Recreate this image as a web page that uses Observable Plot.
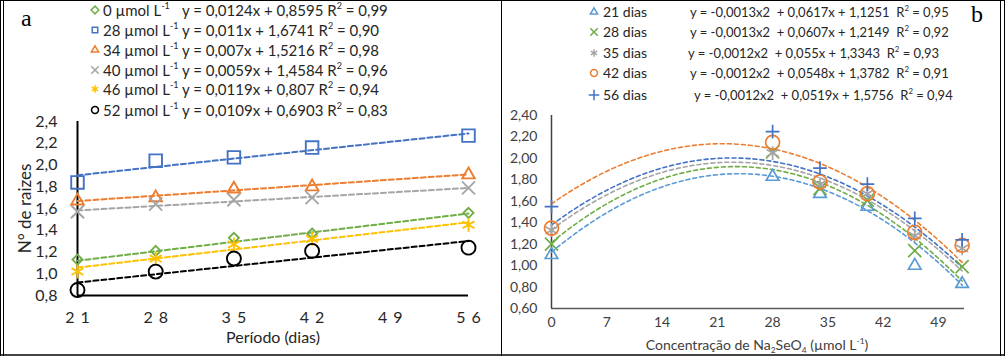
<!DOCTYPE html>
<html><head><meta charset="utf-8">
<script src="https://cdn.jsdelivr.net/npm/d3@7"></script>
<script src="https://cdn.jsdelivr.net/npm/@observablehq/plot@0.6"></script>
<style>
html,body{margin:0;padding:0;background:#fff;}
#wrap{position:relative;width:1005px;height:356px;overflow:hidden;font-family:Lato,"Open Sans",sans-serif;}
.pl{position:absolute;top:0;}
.t{position:absolute;white-space:pre;line-height:1;color:#262626;transform:translateY(-50%);}
.sym{position:absolute;transform:translate(-50%,-50%);overflow:visible;}
sup{font-size:0.6em;vertical-align:0.7em;line-height:0;}
sub{font-size:0.6em;vertical-align:-0.3em;line-height:0;}
.line{position:absolute;}
.lab{position:absolute;font-family:"Liberation Serif","Times New Roman",serif;font-size:24px;line-height:1;color:#000;}
#pa svg g[aria-label="x-axis tick label"] text{letter-spacing:6px;}
#pa svg g[aria-label="y-axis label"] text{font-size:17px;}
</style></head><body>
<div id="wrap"></div>
<script>
// ---------- Panel a data ----------
const periodA = [21, 28, 35, 42, 56];
const xTicksA = [21, 28, 35, 42, 49, 56];
const yTicksA = [0.8, 1.0, 1.2, 1.4, 1.6, 1.8, 2.0, 2.2, 2.4];
const concA = ["0", "28", "34", "40", "46", "52"];
const raizes0  = [1.13, 1.21, 1.33, 1.37, 1.56];
const raizes28 = [1.84, 2.04, 2.07, 2.16, 2.27];
const raizes34 = [1.67, 1.70, 1.78, 1.80, 1.91];
const raizes40 = [1.57, 1.64, 1.68, 1.70, 1.79];
const raizes46 = [1.02, 1.14, 1.27, 1.32, 1.45];
const raizes52 = [0.85, 1.02, 1.14, 1.21, 1.24];
const slopeA     = [0.0124, 0.011, 0.007, 0.0059, 0.0119, 0.0109];
const interceptA = [0.8595, 1.6741, 1.5216, 1.4584, 0.807, 0.6903];
const eqA = ["0,0124x + 0,8595", "0,011x + 1,6741", "0,007x + 1,5216", "0,0059x + 1,4584", "0,0119x + 0,807", "0,0109x + 0,6903"];
const r2A = ["0,99", "0,90", "0,98", "0,96", "0,94", "0,83"];

// ---------- Panel b data ----------
const concB = [0, 28, 34, 40, 46, 52];
const xTicksB = [0, 7, 14, 21, 28, 35, 42, 49];
const yTicksB = [0.6, 0.8, 1.0, 1.2, 1.4, 1.6, 1.8, 2.0, 2.2, 2.4];
const diasB = ["21 dias", "28 dias", "35 dias", "42 dias", "56 dias"];
const dias21 = [1.10, 1.83, 1.67, 1.55, 1.00, 0.83];
const dias28 = [1.20, 2.06, 1.72, 1.61, 1.14, 0.99];
const dias35 = [1.33, 2.05, 1.76, 1.67, 1.28, 1.16];
const dias42 = [1.35, 2.15, 1.78, 1.67, 1.31, 1.19];
const dias56 = [1.55, 2.25, 1.91, 1.76, 1.44, 1.24];
const coefA2 = [-0.0013, -0.0013, -0.0012, -0.0012, -0.0012];
const coefA1 = [0.0617, 0.0607, 0.055, 0.0548, 0.0519];
const coefA0 = [1.1251, 1.2149, 1.3343, 1.3782, 1.5756];
const eqB = ["y = -0,0013x2  + 0,0617x + 1,1251  R", "y = -0,0013x2  + 0,0607x + 1,2149  R", "y = -0,0012x2  + 0,055x + 1,3343  R", "y = -0,0012x2  + 0,0548x + 1,3782  R", "y = -0,0012x2  + 0,0519x + 1,5756  R"];
const r2B = ["0,95", "0,92", "0,93", "0,91", "0,94"];

// ---------- styles ----------
const styleA = [
  {color: "#70AD47", symbol: "diamond2", r: 4.5},
  {color: "#4472C4", symbol: "square2", r: 8},
  {color: "#ED7D31", symbol: "triangle2", r: 6},
  {color: "#A5A5A5", symbol: "times", r: 6},
  {color: "#FFC000", symbol: "asterisk", r: 6.5},
  {color: "#000000", symbol: "circle", r: 7}
];
const styleB = [
  {marker: "#5B9BD5", trend: "#5B9BD5", symbol: "triangle2", r: 6},
  {marker: "#70AD47", trend: "#70AD47", symbol: "times", r: 6},
  {marker: "#A5A5A5", trend: "#A5A5A5", symbol: "asterisk", r: 6.5},
  {marker: "#ED7D31", trend: "#4472C4", symbol: "circle", r: 7},
  {marker: "#4472C4", trend: "#ED7D31", symbol: "plus", r: 4.5}
];
const symMap = {diamond2: d3.symbolDiamond2, square2: d3.symbolSquare2, triangle2: d3.symbolTriangle2,
  times: d3.symbolTimes, asterisk: d3.symbolAsterisk, circle: d3.symbolCircle, plus: d3.symbolPlus};

const comma = f => d => d3.format(f)(d).replace(".", ",");
const wrap = document.getElementById("wrap");

// ---------- Panel a ----------
const seriesA = [raizes0, raizes28, raizes34, raizes40, raizes46, raizes52];
const marksA = [
  Plot.axisX({ticks: xTicksA, tickSize: 0, tickPadding: 16, tickFormat: d => String(d), dx: 3,
    label: "Período (dias)", labelAnchor: "center", labelOffset: 47, labelArrow: "none"}),
  Plot.axisY({ticks: yTicksA, tickSize: 0, tickPadding: 20, tickFormat: comma(".1f"),
    label: "N° de raizes", labelAnchor: "center", labelOffset: 59, labelArrow: "none"}),
  Plot.ruleX([21], {stroke: "#000", strokeWidth: 2}),
  Plot.ruleY([0.8], {stroke: "#000", strokeWidth: 2})
];
seriesA.forEach((vals, i) => {
  const st = styleA[i];
  const ends = d3.extent(periodA);
  marksA.push(Plot.line(ends, {x: d => d, y: d => slopeA[i] * d + interceptA[i],
    stroke: st.color, strokeWidth: 2, strokeDasharray: "5,3"}));
});
seriesA.forEach((vals, i) => {
  const st = styleA[i];
  marksA.push(Plot.dot(periodA.map((p, j) => ({p, v: vals[j]})), {x: "p", y: "v",
    symbol: () => st.symbol, r: st.r, stroke: st.color, strokeWidth: 1.9, fill: "none"}));
});
const plotA = Plot.plot({
  width: 501, height: 356,
  marginLeft: 77, marginRight: 33, marginTop: 121, marginBottom: 61,
  x: {domain: [21, 56]}, y: {domain: [0.8, 2.4]},
  symbol: {type: "identity"},
  style: {fontFamily: "Lato, sans-serif", fontSize: "16px", color: "#262626", background: "transparent", overflow: "visible"},
  marks: marksA
});
const pa = document.createElement("div"); pa.id = "pa"; pa.className = "pl"; pa.style.left = "0px";
pa.appendChild(plotA); wrap.appendChild(pa);

// ---------- Panel b ----------
const seriesB = [dias21, dias28, dias35, dias42, dias56];
const marksB = [
  Plot.axisX({ticks: xTicksB, tickSize: 0, tickPadding: 9, tickFormat: d => String(d), label: null}),
  Plot.axisY({ticks: yTicksB, tickSize: 0, tickPadding: 14, tickFormat: comma(".2f"), label: null}),
  Plot.ruleX([0], {stroke: "#404040", strokeWidth: 1.5}),
  Plot.ruleY([0.6], {stroke: "#595959", strokeWidth: 1.5})
];
const curveX = d3.range(0, 52.01, 0.5);
seriesB.forEach((vals, i) => {
  const st = styleB[i];
  marksB.push(Plot.line(curveX, {x: d => d, y: d => coefA2[i] * d * d + coefA1[i] * d + coefA0[i],
    stroke: st.trend, strokeWidth: 1.6, strokeDasharray: "4,3", curve: "linear"}));
});
seriesB.forEach((vals, i) => {
  const st = styleB[i];
  marksB.push(Plot.dot(concB.map((c, j) => ({c, v: vals[j]})), {x: "c", y: "v",
    symbol: () => st.symbol, r: st.r, stroke: st.marker, strokeWidth: 1.7, fill: "none"}));
});
const plotB = Plot.plot({
  width: 504, height: 356,
  marginLeft: 50, marginRight: 41, marginTop: 115, marginBottom: 48,
  x: {domain: [0, 52.3]}, y: {domain: [0.6, 2.4]},
  symbol: {type: "identity"},
  style: {fontFamily: "Lato, sans-serif", fontSize: "14px", color: "#404040", background: "transparent", overflow: "visible"},
  marks: marksB
});
const pb = document.createElement("div"); pb.id = "pb"; pb.className = "pl"; pb.style.left = "501px";
pb.appendChild(plotB); wrap.appendChild(pb);

// ---------- helpers ----------
function addText(html, x, y, size, extra) {
  const d = document.createElement("div");
  d.className = "t"; d.innerHTML = html;
  d.style.left = x + "px"; d.style.top = y + "px"; d.style.fontSize = size + "px";
  if (extra) Object.assign(d.style, extra);
  wrap.appendChild(d); return d;
}
function addSym(type, color, size, x, y, sw) {
  const ns = "http://www.w3.org/2000/svg";
  const s = document.createElementNS(ns, "svg");
  s.setAttribute("class", "sym"); s.setAttribute("width", 14); s.setAttribute("height", 14);
  s.setAttribute("viewBox", "-7 -7 14 14");
  s.style.left = x + "px"; s.style.top = y + "px";
  const p = document.createElementNS(ns, "path");
  p.setAttribute("d", d3.symbol(symMap[type], size)());
  p.setAttribute("fill", "none"); p.setAttribute("stroke", color); p.setAttribute("stroke-width", sw);
  s.appendChild(p); wrap.appendChild(s);
}
function addLine(x, y, w, h, color) {
  const d = document.createElement("div"); d.className = "line";
  Object.assign(d.style, {left: x + "px", top: y + "px", width: w + "px", height: h + "px", background: color});
  wrap.appendChild(d);
}

// ---------- legend a ----------
const rowYA = [10, 30, 50, 70, 89, 110];
concA.forEach((c, i) => {
  addSym(styleA[i].symbol, styleA[i].color, 38, 95, rowYA[i], 1.5);
  addText(`${c} µmol L<sup>-1</sup>`, 103, rowYA[i], 15);
  addText(`y = ${eqA[i]} R<sup>2</sup> = ${r2A[i]}`, 182, rowYA[i], 15);
});
// ---------- legend b ----------
const rowYB = [12, 32, 53, 73, 95];
const eqXB = [690, 690, 688, 690, 694];
diasB.forEach((d, i) => {
  addSym(styleB[i].symbol, styleB[i].marker, 38, 594, rowYB[i], 1.5);
  addText(d, 603, rowYB[i], 14);
  addText(`${eqB[i]}<sup>2</sup> = ${r2B[i]}`, eqXB[i], rowYB[i], 13);
});
// axis title b
addText(`Concentração de Na<sub>2</sub>SeO<sub>4</sub> (µmol L<sup>-1</sup>)`, 757, 345, 14,
  {transform: "translate(-50%,-50%)", color: "#404040"});

// panel letters
const la = document.createElement("div"); la.className = "lab"; la.textContent = "a";
la.style.left = "21px"; la.style.top = "6px"; wrap.appendChild(la);
const lb = document.createElement("div"); lb.className = "lab"; lb.textContent = "b";
lb.style.left = "971px"; lb.style.top = "2px"; wrap.appendChild(lb);

// frame lines
addLine(0, 0, 1005, 1, "#000");
addLine(0, 354, 1005, 2, "#444");
addLine(0, 0, 1, 356, "#000");
addLine(3, 0, 1, 356, "#000");
addLine(501, 0, 1, 356, "#000");
addLine(1000, 0, 1, 356, "#000");
addLine(1004, 0, 1, 356, "#000");
</script>
</body></html>
